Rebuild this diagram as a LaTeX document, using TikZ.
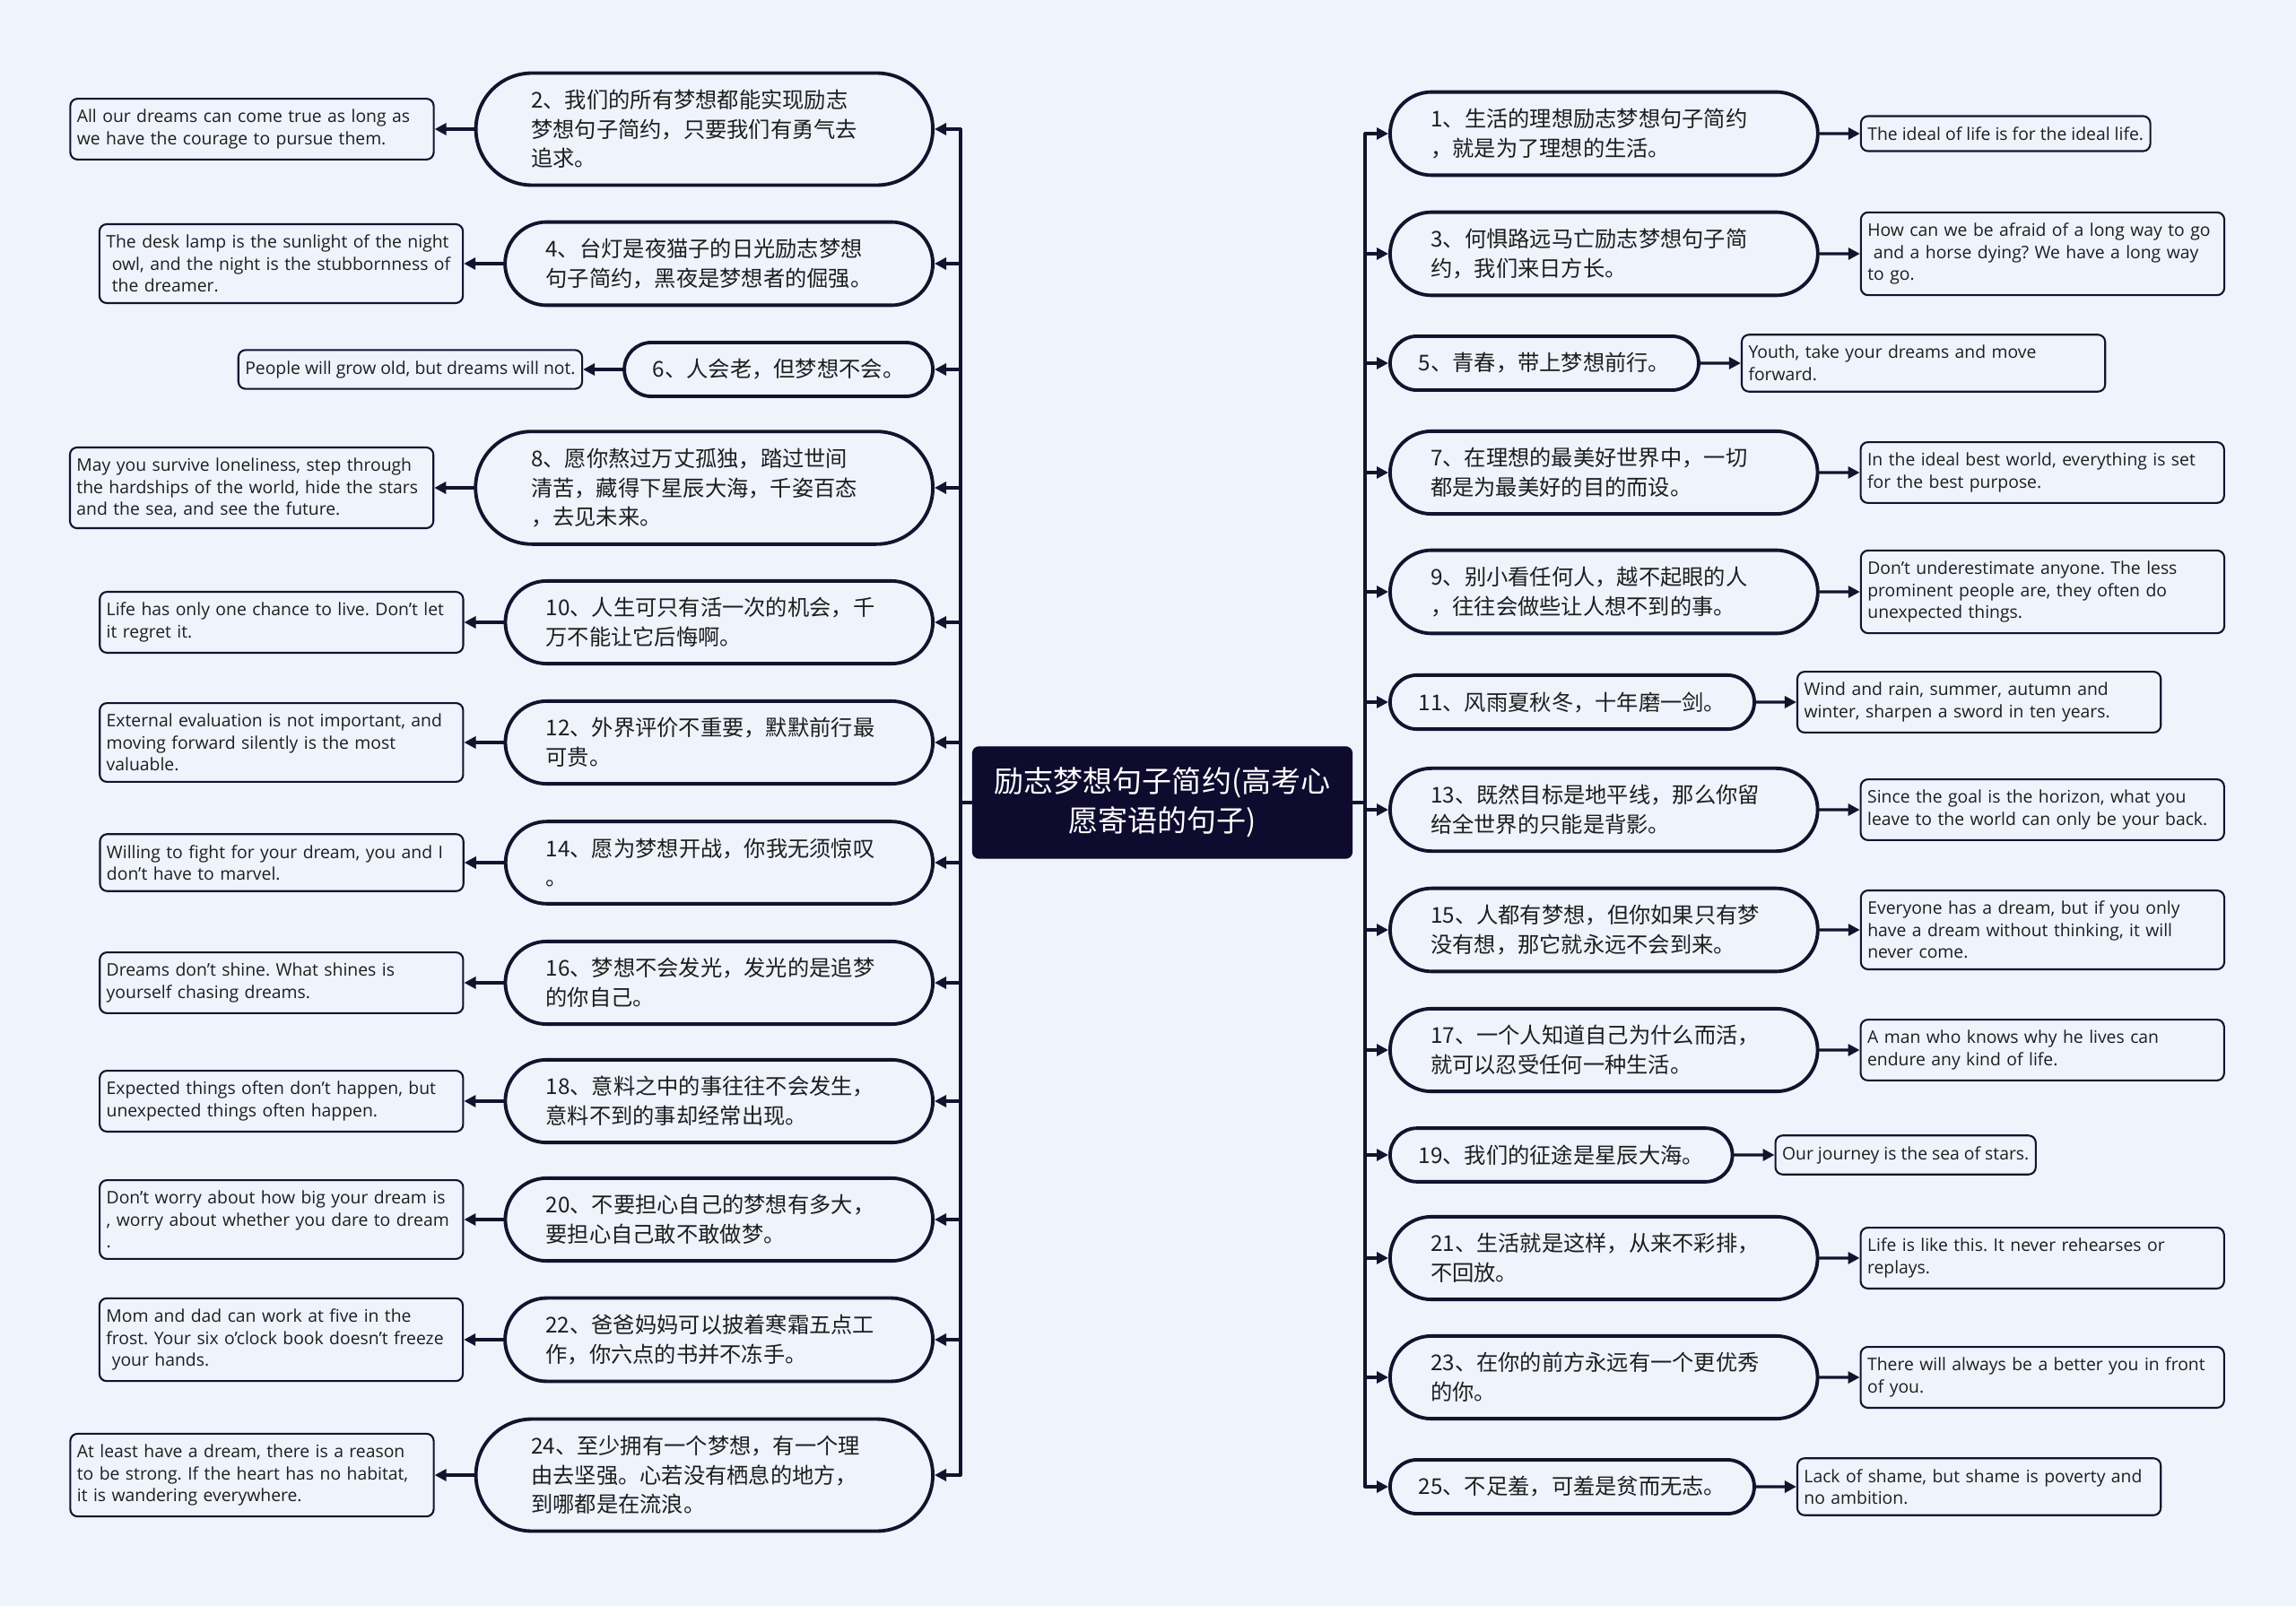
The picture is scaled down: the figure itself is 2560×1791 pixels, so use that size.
\documentclass[tikz,border=0pt]{standalone}
\usepackage{fontspec}
\setmainfont{Open Sans}
\newfontfamily\cjkfont{Noto Sans CJK SC}
\usepackage{tikz}
\usetikzlibrary{arrows.meta,positioning,shapes.misc}
\frenchspacing
\definecolor{mmInk}{HTML}{14132E}
\definecolor{mmPaper}{HTML}{EEF3FC}
\definecolor{mmRoot}{HTML}{0E0B2E}
\definecolor{mmText}{HTML}{1E1E1E}
\tikzset{
  mm diagram/.style={x=0.01cm, y=-0.01cm, line cap=round, line join=round},
  mm root/.style={draw=mmRoot, fill=mmRoot, text=white, rounded corners=2pt,
    font=\cjkfont\fontsize{9.4pt}{12.4pt}\selectfont, align=center,
    inner xsep=0.24cm, minimum height=1.24cm},
  mm quote base/.style={rounded rectangle, draw=mmInk, fill=mmPaper, line width=1.1pt,
    font=\cjkfont\fontsize{6.9pt}{9.3pt}\selectfont, text=mmText, align=left,
    inner xsep=0.36cm, inner ysep=0.185cm},
  mm quote/.style={mm quote base, text width=3.86cm},
  mm quote tall/.style={mm quote, inner xsep=0.435cm},
  mm quote short/.style={mm quote base, inner xsep=0.295cm},
  mm trans base/.style={draw=mmInk, fill=mmPaper, line width=0.6pt, rounded corners=2.3pt,
    font=\fontsize{5.5pt}{6.95pt}\selectfont, text=mmText, align=left,
    inner xsep=0.075cm, inner ysep=0.12cm},
  mm trans/.style={mm trans base, text width=3.9cm},
  mm trans short/.style={mm trans base},
  mm arrow/.style={-{Triangle[length=1.3mm,width=1.3mm]}, draw=mmInk, line width=0.9pt},
  mm line/.style={draw=mmInk, line width=0.9pt}
}

\begin{document}
\begin{tikzpicture}[mm diagram]
\fill[mmPaper] (0,0) rectangle (2560,1791);
\useasboundingbox (0,0) rectangle (2560,1791);

% root and spines
\node[mm root] (root) at (1296,895) {励志梦想句子简约(高考心\\愿寄语的句子)};
\coordinate (lspine) at (1071,895);
\coordinate (rspine) at (1522,895);

% left branch
\node[mm quote tall, anchor=east] (l2) at (1042,144) {2、我们的所有梦想都能实现励志\\梦想句子简约，只要我们有勇气去\\追求。};
\node[mm quote, anchor=east] (l4) at (1042,294) {4、台灯是夜猫子的日光励志梦想\\句子简约，黑夜是梦想者的倔强。};
\node[mm quote short, anchor=east] (l6) at (1042,412) {6、人会老，但梦想不会。};
\node[mm quote tall, anchor=east] (l8) at (1042,544) {8、愿你熬过万丈孤独，踏过世间\\清苦，藏得下星辰大海，千姿百态\\，去见未来。};
\node[mm quote, anchor=east] (l10) at (1042,694) {10、人生可只有活一次的机会，千\\万不能让它后悔啊。};
\node[mm quote, anchor=east] (l12) at (1042,828) {12、外界评价不重要，默默前行最\\可贵。};
\node[mm quote, anchor=east] (l14) at (1042,962) {14、愿为梦想开战，你我无须惊叹\\。};
\node[mm quote, anchor=east] (l16) at (1042,1096) {16、梦想不会发光，发光的是追梦\\的你自己。};
\node[mm quote, anchor=east] (l18) at (1042,1228) {18、意料之中的事往往不会发生，\\意料不到的事却经常出现。};
\node[mm quote, anchor=east] (l20) at (1042,1360) {20、不要担心自己的梦想有多大，\\要担心自己敢不敢做梦。};
\node[mm quote, anchor=east] (l22) at (1042,1494) {22、爸爸妈妈可以披着寒霜五点工\\作，你六点的书并不冻手。};
\node[mm quote tall, anchor=east] (l24) at (1042,1645) {24、至少拥有一个梦想，有一个理\\由去坚强。心若没有栖息的地方，\\到哪都是在流浪。};

\node[mm trans, left=0.44cm of l2] (e2) {All our dreams can come true as long as\\we have the courage to pursue them.};
\node[mm trans, left=0.44cm of l4] (e4) {The desk lamp is the sunlight of the night\\~owl, and the night is the stubbornness of\\~the dreamer.};
\node[mm trans short, left=0.44cm of l6] (e6) {People will grow old, but dreams will not.};
\node[mm trans, left=0.44cm of l8] (e8) {May you survive loneliness, step through\\the hardships of the world, hide the stars\\and the sea, and see the future.};
\node[mm trans, left=0.44cm of l10] (e10) {Life has only one chance to live. Don't let\\it regret it.};
\node[mm trans, left=0.44cm of l12] (e12) {External evaluation is not important, and\\moving forward silently is the most\\valuable.};
\node[mm trans, left=0.44cm of l14] (e14) {Willing to fight for your dream, you and I\\don't have to marvel.};
\node[mm trans, left=0.44cm of l16] (e16) {Dreams don't shine. What shines is\\yourself chasing dreams.};
\node[mm trans, left=0.44cm of l18] (e18) {Expected things often don't happen, but\\unexpected things often happen.};
\node[mm trans, left=0.44cm of l20] (e20) {Don't worry about how big your dream is\\, worry about whether you dare to dream\\.};
\node[mm trans, left=0.44cm of l22] (e22) {Mom and dad can work at five in the\\frost. Your six o'clock book doesn't freeze\\~your hands.};
\node[mm trans, left=0.44cm of l24] (e24) {At least have a dream, there is a reason\\to be strong. If the heart has no habitat,\\it is wandering everywhere.};

% right branch
\node[mm quote, anchor=west] (r1) at (1548,149) {1、生活的理想励志梦想句子简约\\，就是为了理想的生活。};
\node[mm quote, anchor=west] (r3) at (1548,283) {3、何惧路远马亡励志梦想句子简\\约，我们来日方长。};
\node[mm quote short, anchor=west] (r5) at (1548,405) {5、青春，带上梦想前行。};
\node[mm quote, anchor=west] (r7) at (1548,527) {7、在理想的最美好世界中，一切\\都是为最美好的目的而设。};
\node[mm quote, anchor=west] (r9) at (1548,660) {9、别小看任何人，越不起眼的人\\，往往会做些让人想不到的事。};
\node[mm quote short, anchor=west] (r11) at (1548,783) {11、风雨夏秋冬，十年磨一剑。};
\node[mm quote, anchor=west] (r13) at (1548,903) {13、既然目标是地平线，那么你留\\给全世界的只能是背影。};
\node[mm quote, anchor=west] (r15) at (1548,1037) {15、人都有梦想，但你如果只有梦\\没有想，那它就永远不会到来。};
\node[mm quote, anchor=west] (r17) at (1548,1171) {17、一个人知道自己为什么而活，\\就可以忍受任何一种生活。};
\node[mm quote short, anchor=west] (r19) at (1548,1288) {19、我们的征途是星辰大海。};
\node[mm quote, anchor=west] (r21) at (1548,1403) {21、生活就是这样，从来不彩排，\\不回放。};
\node[mm quote, anchor=west] (r23) at (1548,1536) {23、在你的前方永远有一个更优秀\\的你。};
\node[mm quote short, anchor=west] (r25) at (1548,1658) {25、不足羞，可羞是贫而无志。};

\node[mm trans short, right=0.45cm of r1] (e1) {The ideal of life is for the ideal life.};
\node[mm trans, right=0.45cm of r3] (e3) {How can we be afraid of a long way to go\\~and a horse dying? We have a long way\\to go.};
\node[mm trans, right=0.45cm of r5] (e5) {Youth, take your dreams and move\\forward.};
\node[mm trans, right=0.45cm of r7] (e7) {In the ideal best world, everything is set\\for the best purpose.};
\node[mm trans, right=0.45cm of r9] (e9) {Don't underestimate anyone. The less\\prominent people are, they often do\\unexpected things.};
\node[mm trans, right=0.45cm of r11] (e11) {Wind and rain, summer, autumn and\\winter, sharpen a sword in ten years.};
\node[mm trans, right=0.45cm of r13] (e13) {Since the goal is the horizon, what you\\leave to the world can only be your back.};
\node[mm trans, right=0.45cm of r15] (e15) {Everyone has a dream, but if you only\\have a dream without thinking, it will\\never come.};
\node[mm trans, right=0.45cm of r17] (e17) {A man who knows why he lives can\\endure any kind of life.};
\node[mm trans short, right=0.45cm of r19] (e19) {Our journey is the sea of stars.};
\node[mm trans, right=0.45cm of r21] (e21) {Life is like this. It never rehearses or\\replays.};
\node[mm trans, right=0.45cm of r23] (e23) {There will always be a better you in front\\of you.};
\node[mm trans, right=0.45cm of r25] (e25) {Lack of shame, but shame is poverty and\\no ambition.};

% connectors
\draw[mm line] (root.west) -- (lspine);
\draw[mm line] (root.east) -- (rspine);
\draw[mm line] (l2.east -| lspine) -- (l24.east -| lspine);
\draw[mm line] (r1.west -| rspine) -- (r25.west -| rspine);
\draw[mm arrow] (l2.east -| lspine) -- (l2.east);
\draw[mm arrow] (l4.east -| lspine) -- (l4.east);
\draw[mm arrow] (l6.east -| lspine) -- (l6.east);
\draw[mm arrow] (l8.east -| lspine) -- (l8.east);
\draw[mm arrow] (l10.east -| lspine) -- (l10.east);
\draw[mm arrow] (l12.east -| lspine) -- (l12.east);
\draw[mm arrow] (l14.east -| lspine) -- (l14.east);
\draw[mm arrow] (l16.east -| lspine) -- (l16.east);
\draw[mm arrow] (l18.east -| lspine) -- (l18.east);
\draw[mm arrow] (l20.east -| lspine) -- (l20.east);
\draw[mm arrow] (l22.east -| lspine) -- (l22.east);
\draw[mm arrow] (l24.east -| lspine) -- (l24.east);
\draw[mm arrow] (r1.west -| rspine) -- (r1.west);
\draw[mm arrow] (r3.west -| rspine) -- (r3.west);
\draw[mm arrow] (r5.west -| rspine) -- (r5.west);
\draw[mm arrow] (r7.west -| rspine) -- (r7.west);
\draw[mm arrow] (r9.west -| rspine) -- (r9.west);
\draw[mm arrow] (r11.west -| rspine) -- (r11.west);
\draw[mm arrow] (r13.west -| rspine) -- (r13.west);
\draw[mm arrow] (r15.west -| rspine) -- (r15.west);
\draw[mm arrow] (r17.west -| rspine) -- (r17.west);
\draw[mm arrow] (r19.west -| rspine) -- (r19.west);
\draw[mm arrow] (r21.west -| rspine) -- (r21.west);
\draw[mm arrow] (r23.west -| rspine) -- (r23.west);
\draw[mm arrow] (r25.west -| rspine) -- (r25.west);
\draw[mm arrow] (l2) -- (e2);
\draw[mm arrow] (l4) -- (e4);
\draw[mm arrow] (l6) -- (e6);
\draw[mm arrow] (l8) -- (e8);
\draw[mm arrow] (l10) -- (e10);
\draw[mm arrow] (l12) -- (e12);
\draw[mm arrow] (l14) -- (e14);
\draw[mm arrow] (l16) -- (e16);
\draw[mm arrow] (l18) -- (e18);
\draw[mm arrow] (l20) -- (e20);
\draw[mm arrow] (l22) -- (e22);
\draw[mm arrow] (l24) -- (e24);
\draw[mm arrow] (r1) -- (e1);
\draw[mm arrow] (r3) -- (e3);
\draw[mm arrow] (r5) -- (e5);
\draw[mm arrow] (r7) -- (e7);
\draw[mm arrow] (r9) -- (e9);
\draw[mm arrow] (r11) -- (e11);
\draw[mm arrow] (r13) -- (e13);
\draw[mm arrow] (r15) -- (e15);
\draw[mm arrow] (r17) -- (e17);
\draw[mm arrow] (r19) -- (e19);
\draw[mm arrow] (r21) -- (e21);
\draw[mm arrow] (r23) -- (e23);
\draw[mm arrow] (r25) -- (e25);
\end{tikzpicture}
\end{document}
